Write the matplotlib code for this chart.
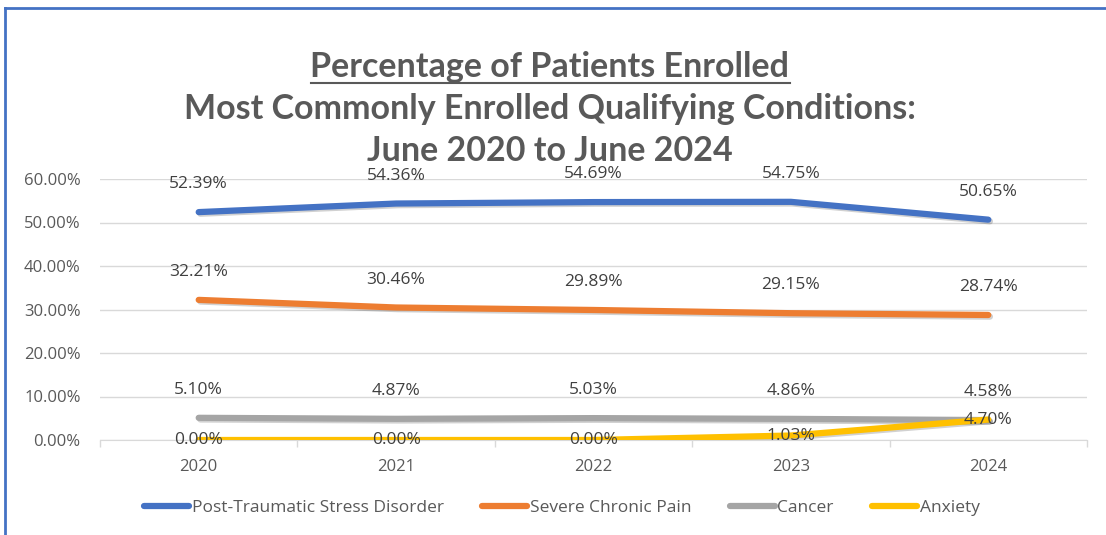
import matplotlib
matplotlib.use("Agg")
import matplotlib.pyplot as plt
import matplotlib.patheffects as pe
from matplotlib.lines import Line2D

years = ["2020", "2021", "2022", "2023", "2024"]
ptsd = [52.39, 54.36, 54.69, 54.75, 50.65]
pain = [32.21, 30.46, 29.89, 29.15, 28.74]
cancer = [5.10, 4.87, 5.03, 4.86, 4.58]
anxiety = [0.00, 0.00, 0.00, 1.03, 4.70]
series_names = ["Post-Traumatic Stress Disorder", "Severe Chronic Pain", "Cancer", "Anxiety"]
y_ticks = [0, 10, 20, 30, 40, 50, 60]

colors = ["#4472C4", "#ED7D31", "#A5A5A5", "#FFC000"]
text_col = "#595959"
plt.rcParams['font.family'] = ['Open Sans', 'DejaVu Sans']

fig = plt.figure(figsize=(11.06, 5.35), dpi=100)
ax = fig.add_axes([100/1106, 1 - 440/535, 987/1106, 261/535])

x = list(range(len(years)))
all_series = [ptsd, pain, cancer, anxiety]
shadow = [pe.SimpleLineShadow(offset=(1.2, -1.2), shadow_color="black", alpha=0.18), pe.Normal()]
for vals, col in zip(all_series, colors):
    ax.plot(x, vals, color=col, lw=4.5, solid_capstyle="round", path_effects=shadow, zorder=3)

for vals in [ptsd, pain, cancer]:
    for xi, v in zip(x, vals):
        ax.annotate(f"{v:.2f}%", (xi, v), xytext=(0, 20), textcoords="offset points",
                    ha="center", va="center", fontsize=12.5, color="#404040", zorder=5)
for xi, v in zip(x, anxiety):
    ax.annotate(f"{v:.2f}%", (xi, v), xytext=(0, 0), textcoords="offset points",
                ha="center", va="center", fontsize=12.5, color="#404040", zorder=5)

ax.set_xlim(-0.5, len(years) - 0.5)
ax.set_ylim(0, 60)
ax.set_yticks(y_ticks)
ax.set_yticklabels([f"{t:.2f}%" for t in y_ticks], fontsize=12, color=text_col)
ax.set_xticks(x)
ax.set_xticklabels(years, fontsize=12, color=text_col)
ax.tick_params(axis="x", length=0, pad=14)
ax.tick_params(axis="y", length=0, pad=14)
ax.set_xticks([-0.5, 0.5, 1.5, 2.5, 3.5, 4.5], minor=True)
ax.tick_params(axis="x", which="minor", length=5, color="#D9D9D9", width=1)
ax.grid(axis="y", color="#D9D9D9", lw=1)
ax.set_axisbelow(True)
for s in ["top", "right", "left"]:
    ax.spines[s].set_visible(False)
ax.spines["bottom"].set_color("#D9D9D9")

tfont = ['Lato', 'DejaVu Sans']
t1 = fig.text(550/1106, 1 - 67/535, "Percentage of Patients Enrolled", ha="center", va="center",
              fontsize=24.5, fontweight="bold", color=text_col, family=tfont)
fig.text(550/1106, 1 - 109/535, "Most Commonly Enrolled Qualifying Conditions:", ha="center", va="center",
         fontsize=24.5, fontweight="bold", color=text_col, family=tfont)
fig.text(550/1106, 1 - 151/535, "June 2020 to June 2024", ha="center", va="center",
         fontsize=24.5, fontweight="bold", color=text_col, family=tfont)
fig.canvas.draw()
bb = t1.get_window_extent()
fig.add_artist(Line2D([bb.x0/1106, bb.x1/1106], [1 - 83/535, 1 - 83/535], color=text_col, lw=1.5))

handles = [Line2D([0], [0], color=c, lw=4.5, solid_capstyle="round") for c in colors]
fig.legend(handles, series_names, loc="center", bbox_to_anchor=(562/1106, 1 - 508/535), ncol=4,
           frameon=False, fontsize=12.5, labelcolor=text_col, handlelength=2.6, handletextpad=0.15,
           columnspacing=2.2)

fig.add_artist(Line2D([5/1106, 1], [1 - 8/535, 1 - 8/535], color="#4472C4", lw=2))
fig.add_artist(Line2D([5/1106, 5/1106], [0, 1 - 8/535], color="#4472C4", lw=2))

fig.savefig("out.png", dpi=100)
